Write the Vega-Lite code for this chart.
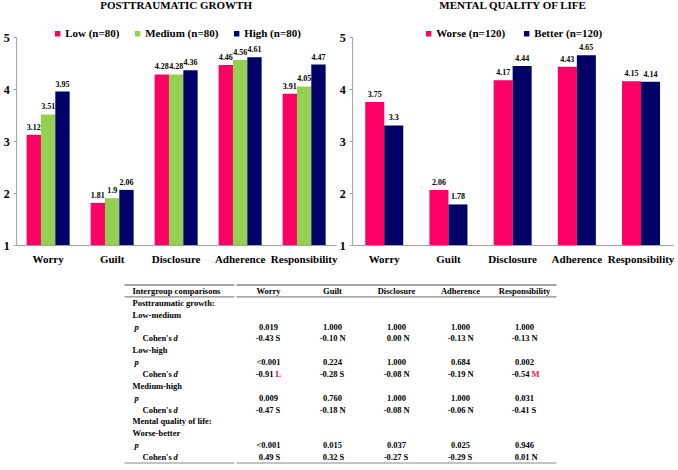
{
  "$schema": "https://vega.github.io/schema/vega-lite/v6.json",
  "padding": {"left": 3, "top": 0, "right": 3, "bottom": 2},
  "background": "white",
  "config": {
    "font": "Liberation Serif",
    "view": {"stroke": null},
    "axis": {"labelFont": "Liberation Serif", "labelFontWeight": "bold", "labelColor": "black", "domainColor": "#a0a0a0", "tickColor": "#a0a0a0", "grid": false, "title": null},
    "legend": {"layout": {"top": {"anchor": "middle"}}},
    "title": {"font": "Liberation Serif", "fontSize": 11, "fontWeight": "bold", "anchor": "middle", "offset": 17, "color": "black"},
    "text": {"font": "Liberation Serif", "fontWeight": "bold", "color": "black"}
  },
  "datasets": {
    "growth": [
      {"domain": "Worry", "group": "Low (n=80)", "value": 3.12},
      {"domain": "Worry", "group": "Medium (n=80)", "value": 3.51},
      {"domain": "Worry", "group": "High (n=80)", "value": 3.95},
      {"domain": "Guilt", "group": "Low (n=80)", "value": 1.81},
      {"domain": "Guilt", "group": "Medium (n=80)", "value": 1.9},
      {"domain": "Guilt", "group": "High (n=80)", "value": 2.06},
      {"domain": "Disclosure", "group": "Low (n=80)", "value": 4.28},
      {"domain": "Disclosure", "group": "Medium (n=80)", "value": 4.28},
      {"domain": "Disclosure", "group": "High (n=80)", "value": 4.36},
      {"domain": "Adherence", "group": "Low (n=80)", "value": 4.46},
      {"domain": "Adherence", "group": "Medium (n=80)", "value": 4.56},
      {"domain": "Adherence", "group": "High (n=80)", "value": 4.61},
      {"domain": "Responsibility", "group": "Low (n=80)", "value": 3.91},
      {"domain": "Responsibility", "group": "Medium (n=80)", "value": 4.05},
      {"domain": "Responsibility", "group": "High (n=80)", "value": 4.47}
    ],
    "quality": [
      {"domain": "Worry", "group": "Worse (n=120)", "value": 3.75},
      {"domain": "Worry", "group": "Better (n=120)", "value": 3.3},
      {"domain": "Guilt", "group": "Worse (n=120)", "value": 2.06},
      {"domain": "Guilt", "group": "Better (n=120)", "value": 1.78},
      {"domain": "Disclosure", "group": "Worse (n=120)", "value": 4.17},
      {"domain": "Disclosure", "group": "Better (n=120)", "value": 4.44},
      {"domain": "Adherence", "group": "Worse (n=120)", "value": 4.43},
      {"domain": "Adherence", "group": "Better (n=120)", "value": 4.65},
      {"domain": "Responsibility", "group": "Worse (n=120)", "value": 4.15},
      {"domain": "Responsibility", "group": "Better (n=120)", "value": 4.14}
    ],
    "labels": [
      {"row": 0, "kind": "head", "text": "Intergroup comparisons"},
      {"row": 1, "kind": "section", "text": "Posttraumatic growth:"},
      {"row": 2, "kind": "group", "text": "Low-medium"},
      {"row": 3, "kind": "p", "text": "p"},
      {"row": 4, "kind": "d", "text": "Cohen's"},
      {"row": 5, "kind": "group", "text": "Low-high"},
      {"row": 6, "kind": "p", "text": "p"},
      {"row": 7, "kind": "d", "text": "Cohen's"},
      {"row": 8, "kind": "group", "text": "Medium-high"},
      {"row": 9, "kind": "p", "text": "p"},
      {"row": 10, "kind": "d", "text": "Cohen's"},
      {"row": 11, "kind": "section", "text": "Mental quality of life:"},
      {"row": 12, "kind": "group", "text": "Worse-better"},
      {"row": 13, "kind": "p", "text": "p"},
      {"row": 14, "kind": "d", "text": "Cohen's"}
    ],
    "cells": [
      {"row": 0, "col": "Worry", "kind": "head", "text": "Worry"},
      {"row": 0, "col": "Guilt", "kind": "head", "text": "Guilt"},
      {"row": 0, "col": "Disclosure", "kind": "head", "text": "Disclosure"},
      {"row": 0, "col": "Adherence", "kind": "head", "text": "Adherence"},
      {"row": 0, "col": "Responsibility", "kind": "head", "text": "Responsibility"},
      {"row": 3, "col": "Worry", "kind": "p", "text": "0.019"},
      {"row": 3, "col": "Guilt", "kind": "p", "text": "1.000"},
      {"row": 3, "col": "Disclosure", "kind": "p", "text": "1.000"},
      {"row": 3, "col": "Adherence", "kind": "p", "text": "1.000"},
      {"row": 3, "col": "Responsibility", "kind": "p", "text": "1.000"},
      {"row": 4, "col": "Worry", "kind": "d", "value": "-0.43", "effect": "S"},
      {"row": 4, "col": "Guilt", "kind": "d", "value": "-0.10", "effect": "N"},
      {"row": 4, "col": "Disclosure", "kind": "d", "value": "0.00", "effect": "N"},
      {"row": 4, "col": "Adherence", "kind": "d", "value": "-0.13", "effect": "N"},
      {"row": 4, "col": "Responsibility", "kind": "d", "value": "-0.13", "effect": "N"},
      {"row": 6, "col": "Worry", "kind": "p", "text": "<0.001"},
      {"row": 6, "col": "Guilt", "kind": "p", "text": "0.224"},
      {"row": 6, "col": "Disclosure", "kind": "p", "text": "1.000"},
      {"row": 6, "col": "Adherence", "kind": "p", "text": "0.684"},
      {"row": 6, "col": "Responsibility", "kind": "p", "text": "0.002"},
      {"row": 7, "col": "Worry", "kind": "d", "value": "-0.91", "effect": "L"},
      {"row": 7, "col": "Guilt", "kind": "d", "value": "-0.28", "effect": "S"},
      {"row": 7, "col": "Disclosure", "kind": "d", "value": "-0.08", "effect": "N"},
      {"row": 7, "col": "Adherence", "kind": "d", "value": "-0.19", "effect": "N"},
      {"row": 7, "col": "Responsibility", "kind": "d", "value": "-0.54", "effect": "M"},
      {"row": 9, "col": "Worry", "kind": "p", "text": "0.009"},
      {"row": 9, "col": "Guilt", "kind": "p", "text": "0.760"},
      {"row": 9, "col": "Disclosure", "kind": "p", "text": "1.000"},
      {"row": 9, "col": "Adherence", "kind": "p", "text": "1.000"},
      {"row": 9, "col": "Responsibility", "kind": "p", "text": "0.031"},
      {"row": 10, "col": "Worry", "kind": "d", "value": "-0.47", "effect": "S"},
      {"row": 10, "col": "Guilt", "kind": "d", "value": "-0.18", "effect": "N"},
      {"row": 10, "col": "Disclosure", "kind": "d", "value": "-0.08", "effect": "N"},
      {"row": 10, "col": "Adherence", "kind": "d", "value": "-0.06", "effect": "N"},
      {"row": 10, "col": "Responsibility", "kind": "d", "value": "-0.41", "effect": "S"},
      {"row": 13, "col": "Worry", "kind": "p", "text": "<0.001"},
      {"row": 13, "col": "Guilt", "kind": "p", "text": "0.015"},
      {"row": 13, "col": "Disclosure", "kind": "p", "text": "0.037"},
      {"row": 13, "col": "Adherence", "kind": "p", "text": "0.025"},
      {"row": 13, "col": "Responsibility", "kind": "p", "text": "0.946"},
      {"row": 14, "col": "Worry", "kind": "d", "value": "0.49", "effect": "S"},
      {"row": 14, "col": "Guilt", "kind": "d", "value": "0.32", "effect": "S"},
      {"row": 14, "col": "Disclosure", "kind": "d", "value": "-0.27", "effect": "S"},
      {"row": 14, "col": "Adherence", "kind": "d", "value": "-0.29", "effect": "S"},
      {"row": 14, "col": "Responsibility", "kind": "d", "value": "0.01", "effect": "N"}
    ]
  },
  "vconcat": [
    {
      "spacing": 2,
      "hconcat": [
        {
          "width": 320, "height": 208,
          "title": {"text": "POSTTRAUMATIC GROWTH"},
          "data": {"name": "growth"},
          "encoding": {
            "x": {"field": "domain", "type": "nominal", "sort": ["Worry", "Guilt", "Disclosure", "Adherence", "Responsibility"], "scale": {"type": "band", "paddingInner": 0, "paddingOuter": 0}, "axis": {"labelAngle": 0, "ticks": false, "labelPadding": 8, "labelFontSize": 11}},
            "y": {"field": "value", "type": "quantitative", "scale": {"domain": [1, 5]}, "axis": {"values": [1, 2, 3, 4, 5], "tickSize": 3, "labelPadding": 4, "labelFontSize": 12}}
          },
          "layer": [
            {
              "transform": [{"filter": "datum.group === 'Low (n=80)'"}],
              "mark": {"type": "bar", "width": {"band": 0.224}, "xOffset": -14.33},
              "encoding": {
                "y2": {"datum": 1},
                "color": {"field": "group", "type": "nominal",
                  "scale": {"domain": ["Low (n=80)", "Medium (n=80)", "High (n=80)"], "range": ["#FF0066", "#92D050", "#000066"]},
                  "legend": {"title": null, "orient": "top", "direction": "horizontal", "symbolType": "square", "symbolSize": 30, "symbolStrokeWidth": 0, "labelFont": "Liberation Serif", "labelFontSize": 11, "labelFontWeight": "bold", "labelColor": "black", "labelOffset": 2, "columnPadding": 12, "offset": -2}}
              }
            },
            {
              "transform": [{"filter": "datum.group === 'Medium (n=80)'"}],
              "mark": {"type": "bar", "width": {"band": 0.224}, "xOffset": 0},
              "encoding": {
                "y2": {"datum": 1},
                "color": {"field": "group", "type": "nominal",
                  "scale": {"domain": ["Low (n=80)", "Medium (n=80)", "High (n=80)"], "range": ["#FF0066", "#92D050", "#000066"]},
                  "legend": {"title": null, "orient": "top", "direction": "horizontal", "symbolType": "square", "symbolSize": 30, "symbolStrokeWidth": 0, "labelFont": "Liberation Serif", "labelFontSize": 11, "labelFontWeight": "bold", "labelColor": "black", "labelOffset": 2, "columnPadding": 12, "offset": -2}}
              }
            },
            {
              "transform": [{"filter": "datum.group === 'High (n=80)'"}],
              "mark": {"type": "bar", "width": {"band": 0.224}, "xOffset": 14.33},
              "encoding": {
                "y2": {"datum": 1},
                "color": {"field": "group", "type": "nominal",
                  "scale": {"domain": ["Low (n=80)", "Medium (n=80)", "High (n=80)"], "range": ["#FF0066", "#92D050", "#000066"]},
                  "legend": {"title": null, "orient": "top", "direction": "horizontal", "symbolType": "square", "symbolSize": 30, "symbolStrokeWidth": 0, "labelFont": "Liberation Serif", "labelFontSize": 11, "labelFontWeight": "bold", "labelColor": "black", "labelOffset": 2, "columnPadding": 12, "offset": -2}}
              }
            },
            {
              "transform": [{"filter": "datum.group === 'Low (n=80)'"}],
              "mark": {"type": "text", "baseline": "bottom", "dy": -3, "fontSize": 8, "xOffset": -14.33},
              "encoding": {"text": {"field": "value", "type": "nominal"}}
            },
            {
              "transform": [{"filter": "datum.group === 'Medium (n=80)'"}],
              "mark": {"type": "text", "baseline": "bottom", "dy": -3, "fontSize": 8, "xOffset": 0},
              "encoding": {"text": {"field": "value", "type": "nominal"}}
            },
            {
              "transform": [{"filter": "datum.group === 'High (n=80)'"}],
              "mark": {"type": "text", "baseline": "bottom", "dy": -3, "fontSize": 8, "xOffset": 14.33},
              "encoding": {"text": {"field": "value", "type": "nominal"}}
            }
          ]
        },
        {
          "width": 321, "height": 208,
          "title": {"text": "MENTAL QUALITY OF LIFE"},
          "data": {"name": "quality"},
          "encoding": {
            "x": {"field": "domain", "type": "nominal", "sort": ["Worry", "Guilt", "Disclosure", "Adherence", "Responsibility"], "scale": {"type": "band", "paddingInner": 0, "paddingOuter": 0}, "axis": {"labelAngle": 0, "ticks": false, "labelPadding": 8, "labelFontSize": 11}},
            "y": {"field": "value", "type": "quantitative", "scale": {"domain": [1, 5]}, "axis": {"values": [1, 2, 3, 4, 5], "tickSize": 3, "labelPadding": 4, "labelFontSize": 12}}
          },
          "layer": [
            {
              "transform": [{"filter": "datum.group === 'Worse (n=120)'"}],
              "mark": {"type": "bar", "width": {"band": 0.296}, "xOffset": -9.5},
              "encoding": {
                "y2": {"datum": 1},
                "color": {"field": "group", "type": "nominal",
                  "scale": {"domain": ["Worse (n=120)", "Better (n=120)"], "range": ["#FF0066", "#000066"]},
                  "legend": {"title": null, "orient": "top", "direction": "horizontal", "symbolType": "square", "symbolSize": 30, "symbolStrokeWidth": 0, "labelFont": "Liberation Serif", "labelFontSize": 11, "labelFontWeight": "bold", "labelColor": "black", "labelOffset": 2, "columnPadding": 16, "offset": -2}}
              }
            },
            {
              "transform": [{"filter": "datum.group === 'Better (n=120)'"}],
              "mark": {"type": "bar", "width": {"band": 0.296}, "xOffset": 9.5},
              "encoding": {
                "y2": {"datum": 1},
                "color": {"field": "group", "type": "nominal",
                  "scale": {"domain": ["Worse (n=120)", "Better (n=120)"], "range": ["#FF0066", "#000066"]},
                  "legend": {"title": null, "orient": "top", "direction": "horizontal", "symbolType": "square", "symbolSize": 30, "symbolStrokeWidth": 0, "labelFont": "Liberation Serif", "labelFontSize": 11, "labelFontWeight": "bold", "labelColor": "black", "labelOffset": 2, "columnPadding": 16, "offset": -2}}
              }
            },
            {
              "transform": [{"filter": "datum.group === 'Worse (n=120)'"}],
              "mark": {"type": "text", "baseline": "bottom", "dy": -3, "fontSize": 8, "xOffset": -9.5},
              "encoding": {"text": {"field": "value", "type": "nominal"}}
            },
            {
              "transform": [{"filter": "datum.group === 'Better (n=120)'"}],
              "mark": {"type": "text", "baseline": "bottom", "dy": -3, "fontSize": 8, "xOffset": 9.5},
              "encoding": {"text": {"field": "value", "type": "nominal"}}
            }
          ]
        }
      ],
      "resolve": {"scale": {"color": "independent"}}
    },
    {
      "spacing": 0,
      "hconcat": [
        {
          "width": 110, "height": 178,
          "data": {"name": "labels"},
          "encoding": {
            "y": {"field": "row", "type": "ordinal", "axis": null, "scale": {"paddingInner": 0, "paddingOuter": 0}}
          },
          "layer": [
            {
              "transform": [{"filter": "datum.kind === 'head' || datum.kind === 'section' || datum.kind === 'group'"}],
              "mark": {"type": "text", "align": "left", "dx": 8, "fontSize": 8.5},
              "encoding": {"x": {"value": 0}, "text": {"field": "text"}}
            },
            {
              "transform": [{"filter": "datum.kind === 'p'"}],
              "mark": {"type": "text", "align": "left", "dx": 10, "fontSize": 8.5, "fontStyle": "italic"},
              "encoding": {"x": {"value": 0}, "text": {"field": "text"}}
            },
            {
              "transform": [{"filter": "datum.kind === 'd'"}],
              "mark": {"type": "text", "align": "left", "dx": 18, "fontSize": 8.5},
              "encoding": {"x": {"value": 0}, "text": {"field": "text"}}
            },
            {
              "transform": [{"filter": "datum.kind === 'd'"}],
              "mark": {"type": "text", "align": "left", "dx": 49, "fontSize": 8.5, "fontStyle": "italic"},
              "encoding": {"x": {"value": 0}, "text": {"value": "d"}}
            },
            {
              "transform": [{"filter": "datum.row === 0"}],
              "mark": {"type": "rule", "color": "#888888", "strokeWidth": 1.5},
              "encoding": {"y": {"field": "row", "type": "ordinal", "bandPosition": 0}}
            },
            {
              "transform": [{"filter": "datum.row === 0 || datum.row === 14"}],
              "mark": {"type": "rule", "color": "#888888", "strokeWidth": 1.2},
              "encoding": {"y": {"field": "row", "type": "ordinal", "bandPosition": 1}}
            }
          ]
        },
        {
          "width": 320, "height": 178,
          "data": {"name": "cells"},
          "encoding": {
            "y": {"field": "row", "type": "ordinal", "axis": null, "scale": {"domain": [0, 1, 2, 3, 4, 5, 6, 7, 8, 9, 10, 11, 12, 13, 14], "paddingInner": 0, "paddingOuter": 0}}
          },
          "layer": [
            {
              "transform": [{"filter": "datum.kind === 'head' || datum.kind === 'p'"}],
              "mark": {"type": "text", "fontSize": 8.5},
              "encoding": {
                "x": {"field": "col", "type": "nominal", "axis": null, "sort": ["Worry", "Guilt", "Disclosure", "Adherence", "Responsibility"], "scale": {"paddingInner": 0, "paddingOuter": 0}},
                "text": {"field": "text"}
              }
            },
            {
              "transform": [{"filter": "datum.kind === 'd'"}],
              "mark": {"type": "text", "fontSize": 8.5, "align": "right", "dx": 5},
              "encoding": {
                "x": {"field": "col", "type": "nominal", "axis": null, "sort": ["Worry", "Guilt", "Disclosure", "Adherence", "Responsibility"], "scale": {"paddingInner": 0, "paddingOuter": 0}},
                "text": {"field": "value"}
              }
            },
            {
              "transform": [{"filter": "datum.kind === 'd'"}],
              "mark": {"type": "text", "fontSize": 8.5, "align": "left", "dx": 7},
              "encoding": {
                "x": {"field": "col", "type": "nominal", "axis": null, "sort": ["Worry", "Guilt", "Disclosure", "Adherence", "Responsibility"], "scale": {"paddingInner": 0, "paddingOuter": 0}},
                "text": {"field": "effect"},
                "color": {"condition": {"test": "datum.effect === 'L' || datum.effect === 'M'", "value": "#E8262A"}, "value": "black"}
              }
            },
            {
              "transform": [{"filter": "datum.row === 0 && datum.col === 'Worry'"}],
              "mark": {"type": "rule", "color": "#888888", "strokeWidth": 1.5},
              "encoding": {"y": {"field": "row", "type": "ordinal", "bandPosition": 0}}
            },
            {
              "transform": [{"filter": "datum.col === 'Worry' && (datum.row === 0 || datum.row === 14)"}],
              "mark": {"type": "rule", "color": "#888888", "strokeWidth": 1.2},
              "encoding": {"y": {"field": "row", "type": "ordinal", "bandPosition": 1}}
            }
          ]
        },
        {
          "width": 8, "height": 178,
          "data": {"values": []},
          "mark": {"type": "text"},
          "encoding": {}
        }
      ]
    }
  ],
  "center": true
}
